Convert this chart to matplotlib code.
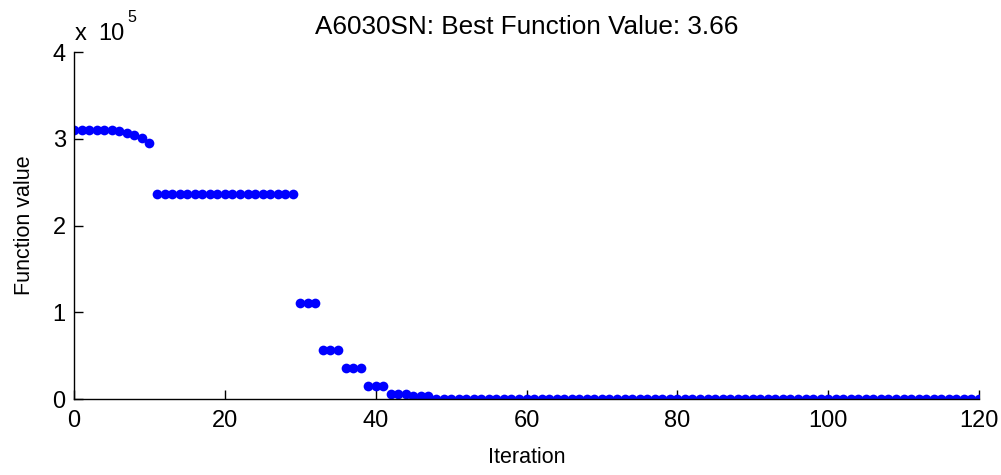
import numpy as np
import matplotlib
matplotlib.use("Agg")
import matplotlib.pyplot as plt
from matplotlib.ticker import FuncFormatter

plt.rcParams['font.family'] = ['Liberation Sans', 'DejaVu Sans']

# best function value per iteration (GA run, 0..120)
iters = np.arange(0, 121)
best_head = [3.10e5, 3.10e5, 3.10e5, 3.10e5, 3.10e5, 3.10e5,
             3.09e5, 3.07e5, 3.04e5, 3.01e5, 2.95e5]
best_steps = [2.36e5] * 19 + [1.11e5] * 3 + [0.565e5] * 3 + [0.357e5] * 3 \
    + [0.15e5] * 3 + [0.058e5] * 3 + [0.029e5] * 3
best_tail = [3.66] * 73
best_vals = np.array(best_head + best_steps + best_tail)

xticks = [0, 20, 40, 60, 80, 100, 120]
yticks = [0, 1e5, 2e5, 3e5, 4e5]
title = "A6030SN: Best Function Value: 3.66"

fs = 17
lfs = 15.5

fig = plt.figure(figsize=(10.01, 4.75), dpi=100)
ax = fig.add_axes([0.074, 0.16, 0.904, 0.7305])

ax.plot(iters, best_vals, linestyle='none', marker='o', color='#0000ff',
        markersize=7, markeredgewidth=0)

ax.set_xlim(0, 120)
ax.set_ylim(0, 4e5)
ax.set_xticks(xticks)
ax.set_yticks(yticks)
ax.yaxis.set_major_formatter(FuncFormatter(lambda v, p: '%g' % (v / 1e5)))

for side in ['top', 'right']:
    ax.spines[side].set_visible(False)
for side in ['left', 'bottom']:
    ax.spines[side].set_linewidth(1.0)
ax.tick_params(direction='in', length=6.5, width=1.0, labelsize=fs)
ax.tick_params(axis='y', pad=6)
ax.tick_params(axis='x', pad=8)

ax.set_xlabel("Iteration", fontsize=lfs, labelpad=11)
ax.set_ylabel("Function value", fontsize=lfs, labelpad=13)
ax.set_title(title, fontsize=18.8, pad=13)

# axis multiplier drawn the way MATLAB does it
fig.text(0.075, 0.916, "x", fontsize=fs, ha='left', va='baseline')
fig.text(0.098, 0.916, "10", fontsize=fs, ha='left', va='baseline')
fig.text(0.127, 0.953, "5", fontsize=11.5, ha='left', va='baseline')

fig.savefig("out.png", dpi=100, facecolor='white')
